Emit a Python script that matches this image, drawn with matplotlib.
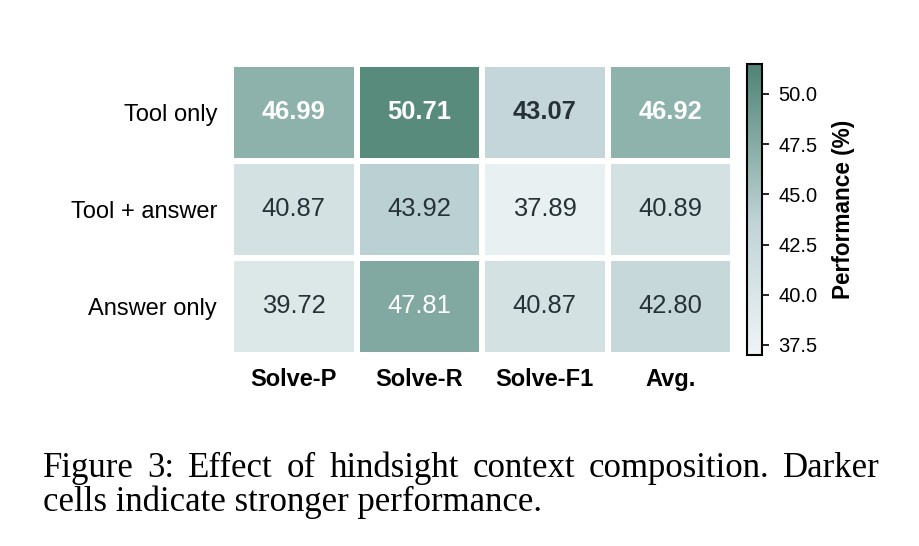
import numpy as np
import matplotlib
matplotlib.use('Agg')
from matplotlib import pyplot as plt
from matplotlib.colors import LinearSegmentedColormap

# data
rows = ['Tool only', 'Tool + answer', 'Answer only']
cols = ['Solve-P', 'Solve-R', 'Solve-F1', 'Avg.']
tool_only = [46.99, 50.71, 43.07, 46.92]
tool_answer = [40.87, 43.92, 37.89, 40.89]
answer_only = [39.72, 47.81, 40.87, 42.80]
cbar_ticks = [37.5, 40.0, 42.5, 45.0, 47.5, 50.0]
caption_1 = 'Figure 3: Effect of hindsight context composition. Darker'
caption_2 = 'cells indicate stronger performance.'

data = np.array([tool_only, tool_answer, answer_only])

plt.rcParams['font.family'] = ['Liberation Sans', 'DejaVu Sans']

cmap = LinearSegmentedColormap.from_list(
    'perf', [(0.0, '#eff4f5'), (0.45, '#c1d4d7'), (0.69, '#8db1ab'), (1.0, '#4f8373')])

fig = plt.figure(figsize=(9.19, 5.46), dpi=100)
ax = fig.add_axes([0.2514, 0.3498, 0.5462, 0.5335])
cax = fig.add_axes([0.8128, 0.3498, 0.0163, 0.5335])

mesh = ax.pcolormesh(data, cmap=cmap, vmin=37.0, vmax=51.5,
                     edgecolors='white', linewidth=4.3)
ax.set_xlim(0, data.shape[1])
ax.set_ylim(data.shape[0], 0)
for s in ax.spines.values():
    s.set_visible(False)

for i in range(data.shape[0]):
    for j in range(data.shape[1]):
        v = data[i, j]
        color = 'white' if v > 45 else '#263238'
        weight = 'bold' if i == 0 else 'normal'
        ax.text(j + 0.5, i + 0.5, f'{v:.2f}', ha='center', va='center',
                fontsize=18.4, color=color, fontweight=weight)

ax.set_xticks(np.arange(len(cols)) + 0.5)
ax.set_xticklabels(cols, fontsize=17, fontweight='bold')
ax.set_yticks(np.arange(len(rows)) + 0.5)
ax.set_yticklabels(rows, fontsize=17)
ax.tick_params(axis='x', length=0, pad=9)
ax.tick_params(axis='y', length=0, pad=10)

cb = fig.colorbar(mesh, cax=cax, ticks=cbar_ticks)
cb.ax.set_yticklabels([f'{t:.1f}' for t in cbar_ticks])
cb.ax.tick_params(labelsize=14.5, length=5, width=1.2, pad=7)
cb.outline.set_linewidth(1.5)
cb.set_label('Performance (%)', fontsize=16.3, fontweight='bold', labelpad=10)

# caption, first line justified
renderer = fig.canvas.get_renderer()
left, right = 43 / 919, 880 / 919
y1, y2 = 1 - 477 / 546, 1 - 511 / 546
cap_font = dict(fontsize=25, family='Liberation Serif', color='black')
words = caption_1.split()
texts = [fig.text(0, y1, w, **cap_font) for w in words]
widths = [t.get_window_extent(renderer).width / fig.bbox.width for t in texts]
gap = (right - left - sum(widths)) / (len(words) - 1)
x = left
for t, w in zip(texts, widths):
    t.set_x(x)
    x += w + gap
fig.text(left, y2, caption_2, **cap_font)

fig.savefig('out.png', dpi=100)
